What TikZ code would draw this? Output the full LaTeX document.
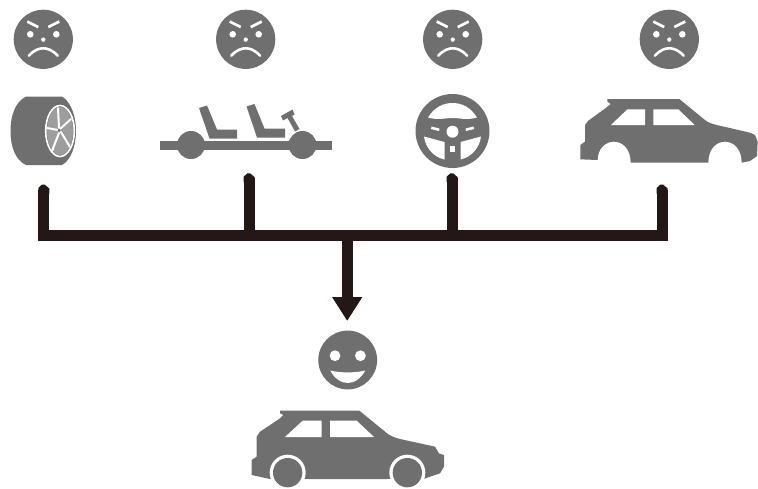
\documentclass[tikz,border=0pt]{standalone}
\usetikzlibrary{arrows.meta}
\definecolor{icon}{HTML}{6F6F6F}
\definecolor{ink}{HTML}{231815}
\tikzset{
  x=1pt,y=-1pt,
  iconfill/.style={fill=icon,draw=none},
  cut/.style={fill=white,draw=none},
  cutline/.style={draw=white,line width=2.6pt,line cap=round},
  bus/.style={draw=ink,line width=11pt},
  tipcap/.style={fill=ink,draw=none},
  angry/.pic={
    \fill[icon] (0,0) circle[radius=29.6];
    \fill[white] (-15.5,-19) -- (-4.5,-13.5) -- (-5.5,-11) -- (-16.5,-16.5) -- cycle;
    \fill[white] (15.5,-19) -- (4.5,-13.5) -- (5.5,-11) -- (16.5,-16.5) -- cycle;
    \fill[white] (-13,-5) circle[radius=3.3];
    \fill[white] (13,-5) circle[radius=3.3];
    \fill[white] (0,0.3) circle[radius=2.2];
    \draw[cutline] (-14.5,16.5) .. controls (-9,10.5) and (-4,9) .. (0,9) .. controls (4,9) and (9,10.5) .. (14.5,16.5);
  },
  happy/.pic={
    \fill[icon] (0,0) circle[radius=29.4];
    \fill[white] (-12.7,-4.3) circle[radius=5.4];
    \fill[white] (12.7,-4.3) circle[radius=5.4];
    \fill[white] (-17.5,10.5) .. controls (-8,13) and (8,13) .. (17.5,10.5) .. controls (13,19) and (6,23) .. (0,23) .. controls (-6,23) and (-13,19) .. (-17.5,10.5) -- cycle;
  },
  stemcap/.pic={
    \fill[tipcap] (-5.5,4) -- (-5.5,-1.5) -- (-2,-4.8) -- (1,-4.8) -- (5.5,-1) -- (5.5,4) -- cycle;
  }
}
\begin{document}
\begin{tikzpicture}
\useasboundingbox (0,0) rectangle (758,488);

% faces
\coordinate (f1) at (43.3,39.3);
\coordinate (f2) at (245.7,39.3);
\coordinate (f3) at (452.7,39.3);
\coordinate (f4) at (669.3,39.3);
\coordinate (smile) at (347.7,360);
\pic at (f1) {angry};
\pic at (f2) {angry};
\pic at (f3) {angry};
\pic at (f4) {angry};
\pic at (smile) {happy};

% tyre
\fill[icon] (26,96.5) .. controls (15,102) and (10.5,116) .. (10.5,131) .. controls (10.5,146) and (15,160) .. (26,165) -- (62,165) .. controls (71,160) and (76,146) .. (76,131) .. controls (76,116) and (71,102) .. (62,96.5) -- cycle;
\begin{scope}[shift={(60,131)}]
  \draw[white,line width=1.6pt] (0,0) ellipse[x radius=14.3,y radius=25.5];
  \fill[white,opacity=.32] (0,0) ellipse[x radius=13,y radius=24];
  \draw[white,line width=2pt,line cap=round] (-1,-3) -- (-2,-23);
  \draw[white,line width=2pt,line cap=round] (0,-2) -- (11,-12);
  \draw[white,line width=2pt,line cap=round] (1,1) -- (10,16);
  \draw[white,line width=2pt,line cap=round] (-1,2) -- (-8,20);
  \draw[white,line width=2pt,line cap=round] (-2,-1) -- (-13,-3);
  \fill[icon] (-1,-1) circle[radius=1.5];
\end{scope}

% chassis
\fill[icon] (160,140.7) rectangle (331.5,149.7);
\fill[icon] (191,145) circle[radius=14];
\fill[icon] (302.5,145) circle[radius=14];
\fill[icon] (199,108) -- (207,105.5) -- (217,129.5) -- (237,129.5) -- (237,138.5) -- (209.5,138.5) -- cycle;
\fill[icon] (246.5,106.5) -- (254.5,104) -- (264.5,128.5) -- (285,128.5) -- (285,137.5) -- (257,137.5) -- cycle;
\fill[icon] (281,116) -- (292.5,109.5) -- (294.5,114.5) -- (292,116) -- (299.5,129) -- (295,131.5) -- (287.5,118) -- (283,120.5) -- cycle;

% steering wheel
\coordinate (sw) at (452.5,131);
\fill[icon] (sw) circle[radius=37];
\begin{scope}[shift={(sw)}]
  \fill[cut] (-24.5,-13.5) .. controls (-18,-24) and (-9,-28) .. (0,-28) .. controls (9,-28) and (18,-24) .. (24.5,-13.5) .. controls (14,-10.5) and (8,-13) .. (0,-13) .. controls (-8,-13) and (-14,-10.5) .. (-24.5,-13.5) -- cycle;
  \fill[cut] (-28.5,5.5) -- (-8,11) -- (-8,28.5) .. controls (-19,26) and (-27,17) .. (-28.5,5.5) -- cycle;
  \fill[cut] (28.5,5.5) -- (8,11) -- (8,28.5) .. controls (19,26) and (27,17) .. (28.5,5.5) -- cycle;
  \fill[cut] (0,0.7) circle[radius=6];
  \fill[cut] (-21,-4.5) -- (-13,-2.5) -- (-13.5,0) -- (-21.5,-2) -- cycle;
  \fill[cut] (21,-4.5) -- (13,-2.5) -- (13.5,0) -- (21.5,-2) -- cycle;
  \fill[cut] (-2.5,15) rectangle (2.5,21);
\end{scope}

% car body
\begin{scope}[shift={(400,0)},scale=0.33333]
  \fill[icon] (622,297) -- (838,297) -- (915,360) .. controls (925,368) and (935,371) .. (950,375) -- (1050,398) -- (1065,405) -- (1073,425) -- (1071,468) -- (1050,483) -- (1025,488)
    .. controls (1025,445) and (1000,425) .. (975,425) .. controls (950,425) and (925,445) .. (925,488)
    -- (692,488) .. controls (692,445) and (667,425) .. (642,425) .. controls (617,425) and (593,445) .. (593,480)
    -- (541,478) -- (541,435) -- (555,425) -- (555,375) -- (565,362) -- (620,322) -- (632,312) -- (622,305) -- cycle;
  \fill[cut] (633,375) -- (682,328) -- (735,328) -- (735,375) -- cycle;
  \fill[cut] (760,375) -- (760,328) -- (835,328) -- (884,375) -- cycle;
\end{scope}

% connectors
\coordinate (t1) at (43.8,189.5);
\coordinate (t2) at (249.2,178.2);
\coordinate (t3) at (452.2,178.2);
\coordinate (t4) at (662.2,189.5);
\coordinate (c1) at (43.8,235.2);
\coordinate (c4) at (662.2,235.2);
\coordinate (j) at (347.2,235.2);
\coordinate (tip) at (347.2,321);
\coordinate (j2) at (249.2,235.2);
\coordinate (j3) at (452.2,235.2);
\draw[bus,line join=miter] (t1) -- (c1) -- (c4) -- (t4);
\draw[bus] (t2) -- (j2);
\draw[bus] (t3) -- (j3);
\draw[bus,-{Triangle[width=28.5pt,length=24pt]}] (j) -- (tip);
\pic at (t1) {stemcap};
\pic at (t2) {stemcap};
\pic at (t3) {stemcap};
\pic at (t4) {stemcap};

% whole car
\begin{scope}[shift={(240,290)},scale=0.33333]
  \fill[icon] (120,362) -- (358,362) -- (445,433) .. controls (455,440) and (465,443) .. (480,447) -- (585,470) -- (597,490) -- (612,495) -- (612,530) -- (600,550) -- (550,567) -- (90,567) -- (35,555) -- (35,510) -- (50,500) -- (50,440) -- (60,425) -- (120,385) -- (130,375) -- (120,370) -- cycle;
  \fill[cut] (135,441) -- (188,392) -- (245,392) -- (245,441) -- cycle;
  \fill[cut] (270,441) -- (270,392) -- (350,392) -- (402,441) -- cycle;
  \fill[cut] (143,548) circle[radius=54];
  \fill[cut] (502,548) circle[radius=54];
  \fill[cut] (80,567) rectangle (206,600);
  \fill[cut] (440,567) rectangle (565,600);
  \fill[icon] (143,548) circle[radius=44];
  \fill[icon] (502,548) circle[radius=44];
\end{scope}
\end{tikzpicture}
\end{document}
